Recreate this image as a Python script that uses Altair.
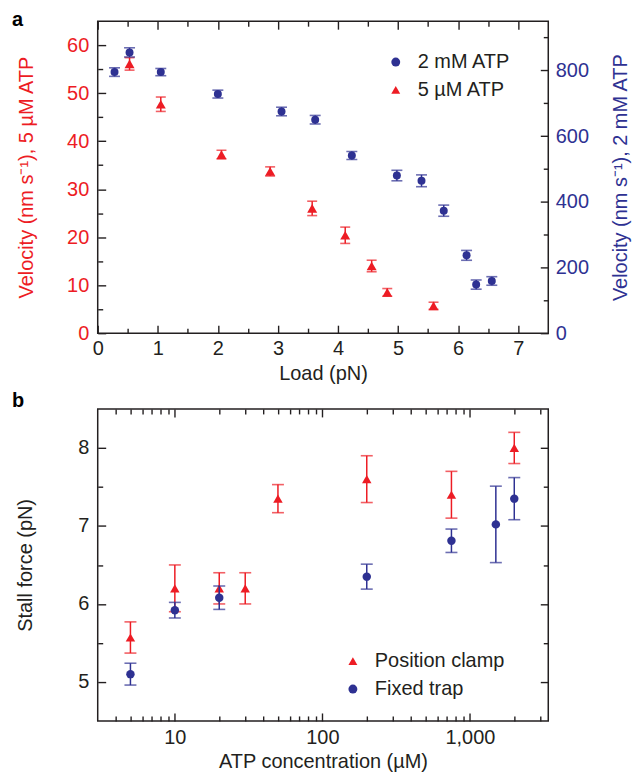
import altair as alt
import pandas as pd

# ---------------- data ----------------
# panel a : velocity vs load
load_2mM = [0.28, 0.53, 1.05, 2.00, 3.06, 3.62, 4.23, 4.98, 5.39, 5.76, 6.14, 6.30, 6.56]
vel_2mM = [795, 855, 795, 728, 675, 650, 541, 480, 464, 373, 237, 148, 159]
err_2mM = [13, 14, 11, 12, 13, 13, 12, 16, 18, 17, 15, 14, 13]

load_5uM = [0.53, 1.05, 2.06, 2.87, 3.57, 4.12, 4.56, 4.82, 5.59]
vel_5uM = [56.1, 47.7, 37.2, 33.7, 26.0, 20.4, 14.0, 8.5, 5.7]
err_5uM = [1.3, 1.5, 0.9, 0.95, 1.5, 1.7, 1.2, 0.8, 0.75]

series_a = ["2 mM ATP", "5 µM ATP"]

# panel b : stall force vs ATP concentration
atp_clamp = [5, 10, 20, 30, 50, 200, 750, 2000]
stall_clamp = [5.57, 6.2, 6.2, 6.2, 7.35, 7.6, 7.4, 8.0]
err_clamp = [0.2, 0.3, 0.2, 0.2, 0.18, 0.3, 0.3, 0.2]

atp_trap = [5, 10, 20, 200, 750, 1500, 2000]
stall_trap = [5.1, 5.92, 6.08, 6.35, 6.81, 7.02, 7.35]
err_trap = [0.14, 0.1, 0.15, 0.16, 0.15, 0.49, 0.27]

series_b = ["Position clamp", "Fixed trap"]
panel_labels = ["a", "b"]

# tick positions
xa_major = [0, 1, 2, 3, 4, 5, 6, 7]
xa_minor = [0.5, 1.5, 2.5, 3.5, 4.5, 5.5, 6.5]
yl_major = [0, 10, 20, 30, 40, 50, 60]
yl_minor = [5, 15, 25, 35, 45, 55]
yr_major = [0, 200, 400, 600, 800]
yr_minor = [100, 300, 500, 700, 900]
xb_major = [10, 100, 1000]
xb_minor = [4, 5, 6, 7, 8, 9, 20, 30, 40, 50, 60, 70, 80, 90,
            200, 300, 400, 500, 600, 700, 800, 900, 2000, 3000]
yb_major = [5, 6, 7, 8]
yb_minor = [5.5, 6.5, 7.5]

# ---------------- style ----------------
INK = "#231F20"
RED = "#ED1C24"
BLUE = "#2E3192"
FONT = "Liberation Sans"
FS = 20
MAJ = 8
MIN = 5
W, H = 452, 313


def frame(xv, v, e, name):
    return pd.DataFrame({
        "x": xv, "v": v,
        "lo": [a - b for a, b in zip(v, e)],
        "hi": [a + b for a, b in zip(v, e)],
        "series": [name] * len(xv),
    })


def axis(orient, values, size, labels=False, title=None, color=INK,
         fmt=None, label_pad=6, title_pad=6, title_angle=None, title_baseline=None):
    kw = dict(orient=orient, values=values, tickSize=size, offset=-size,
              domain=False, grid=False, ticks=True, tickColor=INK,
              tickWidth=1.4, labels=labels, title=title, labelFlush=False)
    if labels:
        kw.update(labelFont=FONT, labelFontSize=FS, labelColor=color,
                  labelPadding=label_pad)
        if fmt:
            kw["format"] = fmt
    if title:
        kw.update(titleFont=FONT, titleFontSize=FS, titleFontWeight="normal",
                  titleColor=color, titlePadding=title_pad)
        if title_angle is not None:
            kw["titleAngle"] = title_angle
        if title_baseline:
            kw["titleBaseline"] = title_baseline
    return alt.Axis(**kw)


def group(df, xscale, yscale, color, psize, capw, xaxes, yaxes, legend, cdom, crange, srange):
    """xaxes / yaxes: list of 4 axes (or None) for the 4 layers."""
    base = alt.Chart(df)
    layers = []
    layers.append(base.mark_rule(color=color, strokeWidth=1.5).encode(
        x=alt.X("x:Q", scale=xscale, axis=xaxes[0]),
        y=alt.Y("lo:Q", scale=yscale, axis=yaxes[0]),
        y2="hi:Q"))
    layers.append(base.mark_tick(color=color, orient="horizontal", size=capw, thickness=1.6).encode(
        x=alt.X("x:Q", scale=xscale, axis=xaxes[1]),
        y=alt.Y("lo:Q", scale=yscale, axis=yaxes[1])))
    layers.append(base.mark_tick(color=color, orient="horizontal", size=capw, thickness=1.6).encode(
        x=alt.X("x:Q", scale=xscale, axis=xaxes[2]),
        y=alt.Y("hi:Q", scale=yscale, axis=yaxes[2])))
    layers.append(base.mark_point(filled=True, opacity=1, size=psize, strokeWidth=0).encode(
        x=alt.X("x:Q", scale=xscale, axis=xaxes[3]),
        y=alt.Y("v:Q", scale=yscale, axis=yaxes[3]),
        color=alt.Color("series:N", scale=alt.Scale(domain=cdom, range=crange), legend=legend),
        shape=alt.Shape("series:N", scale=alt.Scale(domain=cdom, range=srange), legend=legend)))
    return alt.layer(*layers).resolve_axis(x="independent", y="independent")


def letter(txt, ypos):
    return alt.Chart(pd.DataFrame({"label": [txt]})).mark_text(
        font=FONT, fontSize=20, fontWeight="bold", align="left",
        baseline="alphabetic", color="black").encode(
        x=alt.value(-86), y=alt.value(ypos), text="label:N")


def legend(x, y):
    return alt.Legend(orient="none", legendX=x, legendY=y, title=None,
                      labelFont=FONT, labelFontSize=FS, labelColor=INK,
                      symbolSize=80, rowPadding=8, labelOffset=12,
                      symbolStrokeWidth=0, padding=0)


# ---------------- panel a ----------------
xs_a = alt.Scale(domain=[0, 7.5], nice=False, zero=False)
ys_l = alt.Scale(domain=[0, 65], nice=False, zero=False)
ys_r = alt.Scale(domain=[0, 950], nice=False, zero=False)

df_b2 = frame(load_2mM, vel_2mM, err_2mM, series_a[0])
df_r5 = frame(load_5uM, vel_5uM, err_5uM, series_a[1])

leg_a = legend(289, 31)
cr_a = [BLUE, RED]
sr_a = ["circle", "triangle-up"]

red_a = group(
    df_r5, xs_a, ys_l, RED, 100, 10,
    [axis("bottom", xa_major, MAJ, labels=True, title="Load (pN)", label_pad=5, title_pad=5),
     axis("bottom", xa_minor, MIN),
     axis("top", xa_major, MAJ),
     axis("top", xa_minor, MIN)],
    [axis("left", yl_major, MAJ, labels=True, title="Velocity (nm s⁻¹), 5 µM ATP",
          color=RED, label_pad=9, title_pad=30),
     axis("left", yl_minor, MIN), None, None],
    leg_a, series_a, cr_a, sr_a)

blue_a = group(
    df_b2, xs_a, ys_r, BLUE, 64, 11,
    [None, None, None, None],
    [axis("right", yr_major, MAJ, labels=True, title="Velocity (nm s⁻¹), 2 mM ATP",
          color=BLUE, label_pad=7, title_pad=22, title_angle=270, title_baseline="top"),
     axis("right", yr_minor, MIN), None, None],
    leg_a, series_a, cr_a, sr_a)

panel_a = alt.layer(red_a, blue_a, letter(panel_labels[0], 5)).resolve_scale(
    y="independent").resolve_axis(x="independent", y="independent").properties(width=W, height=H)

# ---------------- panel b ----------------
xs_b = alt.Scale(type="log", domain=[3, 3400], nice=False)
ys_b = alt.Scale(domain=[4.5, 8.5], nice=False, zero=False)

df_pc = frame(atp_clamp, stall_clamp, err_clamp, series_b[0])
df_ft = frame(atp_trap, stall_trap, err_trap, series_b[1])

leg_b = legend(246, 243)
cr_b = [RED, BLUE]
sr_b = ["triangle-up", "circle"]

red_b = group(
    df_pc, xs_b, ys_b, RED, 90, 12,
    [axis("bottom", xb_major, MAJ, labels=True, title="ATP concentration (µM)", fmt=",d",
          label_pad=7, title_pad=4),
     axis("bottom", xb_minor, MIN),
     axis("top", xb_major, MAJ),
     axis("top", xb_minor, MIN)],
    [axis("left", yb_major, MAJ, labels=True, title="Stall force (pN)", label_pad=9, title_pad=42),
     axis("left", yb_minor, MIN),
     axis("right", yb_major, MAJ),
     axis("right", yb_minor, MIN)],
    leg_b, series_b, cr_b, sr_b)

blue_b = group(
    df_ft, xs_b, ys_b, BLUE, 72, 12,
    [None, None, None, None],
    [None, None, None, None],
    leg_b, series_b, cr_b, sr_b)

panel_b = alt.layer(red_b, blue_b, letter(panel_labels[1], -2)).resolve_axis(
    x="independent", y="independent").properties(width=W, height=H)

chart = alt.vconcat(panel_a, panel_b, spacing=6).resolve_scale(
    color="independent", shape="independent").properties(
    padding={"left": 3, "top": 0, "right": 0, "bottom": 0}).configure_view(
    stroke=INK, strokeWidth=1.5)

chart.save("out.html", embed_options={"renderer": "svg", "actions": False})
